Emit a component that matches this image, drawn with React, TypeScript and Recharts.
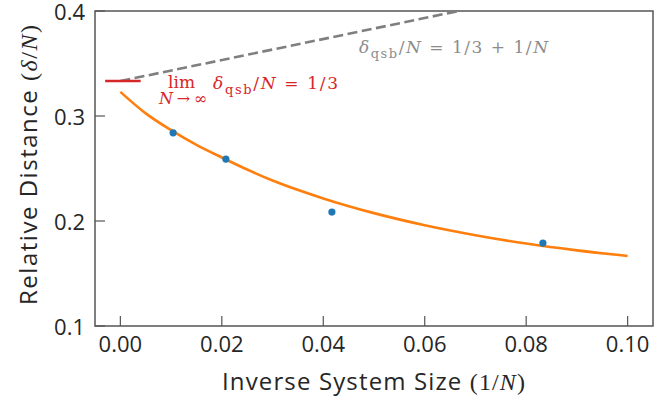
import React from "react";
import {
  ComposedChart,
  Line,
  Scatter,
  XAxis,
  YAxis,
  ReferenceArea,
} from "recharts";

// inverse system size 1/N
const xTicks = [0, 0.02, 0.04, 0.06, 0.08, 0.1];
const yTicks = [0.1, 0.2, 0.3, 0.4];

// measured points
const measX = [0.0104, 0.0208, 0.0417, 0.0833];
const measY = [0.284, 0.259, 0.2085, 0.179];

// fitted curve
const fitX = [0, 0.005, 0.01, 0.015, 0.02, 0.025, 0.03, 0.04, 0.05, 0.06, 0.07, 0.08, 0.09, 0.1];
const fitY = [0.323, 0.3025, 0.2865, 0.2725, 0.2605, 0.249, 0.2385, 0.2215, 0.2075, 0.196, 0.1865, 0.1785, 0.172, 0.1667];

// bound 1/3 + 1/N
const boundX = [0, 0.0667];
const boundY = [0.3333, 0.4];

// limit 1/3
const limX = [-0.003, 0.004];
const limY = [0.3333, 0.3333];

const zip = (xs: number[], ys: number[]) => xs.map((x, i) => ({ x, y: ys[i] }));

const measData = zip(measX, measY);
const fitData = zip(fitX, fitY);
const boundData = zip(boundX, boundY);
const limData = zip(limX, limY);

const TICK_FONT = "'Open Sans', sans-serif";
const SERIF = "'Liberation Serif', serif";
const MATH = "'DejaVu Serif', serif";
const SPINE = "#555";

const XTick = (props: any) => {
  const { x, y, payload } = props;
  return (
    <g>
      <line x1={x} x2={x} y1={y} y2={y - 10} stroke={SPINE} strokeWidth={1.2} />
      <text x={x} y={y + 26} textAnchor="middle" fontFamily={TICK_FONT} fontSize={22} fill="#262626">
        {payload.value.toFixed(2)}
      </text>
    </g>
  );
};

const YTick = (props: any) => {
  const { x, y, payload } = props;
  return (
    <g>
      <line x1={x} x2={x + 10} y1={y} y2={y} stroke={SPINE} strokeWidth={1.2} />
      <text x={x - 10} y={y + 9} textAnchor="end" fontFamily={TICK_FONT} fontSize={22} fill="#262626">
        {payload.value.toFixed(1)}
      </text>
    </g>
  );
};

export default function App() {
  return (
    <div style={{ position: "absolute", left: 0, top: 0, width: 667, height: 403 }}>
      <ComposedChart
        width={667}
        height={403}
        margin={{ top: 11, right: 14, left: 0, bottom: 0 }}
      >
        <XAxis
          dataKey="x"
          type="number"
          domain={[-0.005, 0.105]}
          ticks={xTicks}
          allowDataOverflow
          axisLine={false}
          tickLine={false}
          tickSize={0}
          tickMargin={0}
          height={77}
          tick={<XTick />}
          interval={0}
        />
        <YAxis
          dataKey="y"
          type="number"
          domain={[0.1, 0.4]}
          ticks={yTicks}
          allowDataOverflow
          axisLine={false}
          tickLine={false}
          tickSize={0}
          tickMargin={0}
          width={95}
          tick={<YTick />}
          interval={0}
        />
        <ReferenceArea
          x1={-0.005}
          x2={0.105}
          y1={0.1}
          y2={0.4}
          fill="none"
          stroke={SPINE}
          strokeWidth={1.5}
          ifOverflow="visible"
        />
        <Line
          data={boundData}
          dataKey="y"
          type="linear"
          stroke="#7f7f7f"
          strokeWidth={2.6}
          strokeDasharray="10 4.5"
          dot={false}
          isAnimationActive={false}
        />
        <Line
          data={limData}
          dataKey="y"
          type="linear"
          stroke="#d62728"
          strokeWidth={2.6}
          dot={false}
          isAnimationActive={false}
        />
        <Line
          data={fitData}
          dataKey="y"
          type="monotone"
          stroke="#ff7f0e"
          strokeWidth={2.6}
          dot={false}
          isAnimationActive={false}
        />
        <Scatter
          data={measData}
          dataKey="y"
          fill="#1f77b4"
          shape={(p: any) => <circle cx={p.cx} cy={p.cy} r={3.6} fill="#1f77b4" />}
          isAnimationActive={false}
        />
      </ComposedChart>
      <svg
        width={667}
        height={403}
        style={{ position: "absolute", left: 0, top: 0, pointerEvents: "none" }}
      >
        <text
          x={373.5}
          y={390}
          textAnchor="middle"
          fontFamily={TICK_FONT}
          fontSize={24}
          fill="#262626"
          textLength={303}
          lengthAdjust="spacing"
        >
          Inverse System Size{" "}
          <tspan fontFamily={SERIF}>(1/</tspan>
          <tspan fontFamily={SERIF} fontStyle="italic">N</tspan>
          <tspan fontFamily={SERIF}>)</tspan>
        </text>
        <text
          x={0}
          y={0}
          transform="translate(37,165) rotate(-90)"
          textAnchor="middle"
          fontFamily={TICK_FONT}
          fontSize={24}
          fill="#262626"
          textLength={280}
          lengthAdjust="spacing"
        >
          Relative Distance{" "}
          <tspan fontFamily={SERIF}>(</tspan>
          <tspan fontFamily={SERIF} fontStyle="italic">δ</tspan>
          <tspan fontFamily={SERIF}>/</tspan>
          <tspan fontFamily={SERIF} fontStyle="italic">N</tspan>
          <tspan fontFamily={SERIF}>)</tspan>
        </text>
        <g fontFamily={MATH} fill="#8c8c8c" fontSize={17}>
          <text x={359} y={53} textLength={189} lengthAdjust="spacing">
            <tspan fontStyle="italic">δ</tspan>
            <tspan fontSize={13} dy={5}>qsb</tspan>
            <tspan dy={-5}>/</tspan>
            <tspan fontStyle="italic">N</tspan>
            <tspan> = 1/3 + 1/</tspan>
            <tspan fontStyle="italic">N</tspan>
          </text>
        </g>
        <g fontFamily={MATH} fill="#d62728" fontSize={17}>
          <text x={181.5} y={88} textAnchor="middle" textLength={27} lengthAdjust="spacing">
            lim
          </text>
          <text
            x={183}
            y={104}
            textAnchor="middle"
            fontSize={16}
            textLength={48}
            lengthAdjust="spacing"
          >
            <tspan fontStyle="italic">N</tspan>→∞
          </text>
          <text x={213} y={89} textLength={125} lengthAdjust="spacing">
            <tspan fontStyle="italic">δ</tspan>
            <tspan fontSize={13} dy={5}>qsb</tspan>
            <tspan dy={-5}>/</tspan>
            <tspan fontStyle="italic">N</tspan>
            <tspan> = 1/3</tspan>
          </text>
        </g>
      </svg>
    </div>
  );
}
